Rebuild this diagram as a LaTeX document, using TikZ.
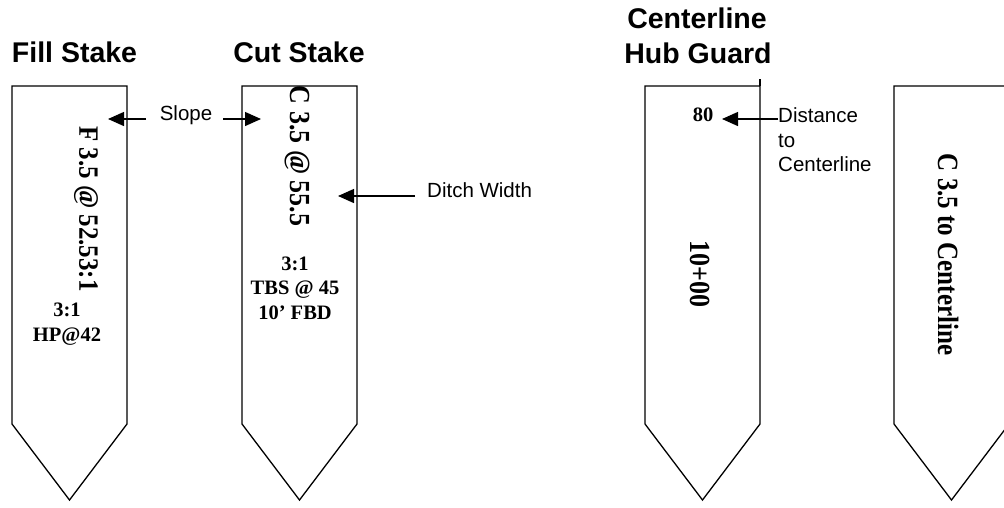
\documentclass[tikz,border=0pt]{standalone}
\usepackage{fontspec}
\setmainfont{Liberation Serif}
\newfontfamily\arialfont{Liberation Sans}
\usetikzlibrary{arrows.meta}
\tikzset{
  stake/.style={draw=black, line width=1.3pt, line join=miter},
  title/.style={font=\arialfont\bfseries\fontsize{28.5}{35}\selectfont, inner sep=0pt, anchor=base},
  note/.style={font=\arialfont\fontsize{20.5}{24.5}\selectfont, inner sep=0pt},
  vtext/.style={font=\bfseries\fontsize{25}{30}\selectfont, inner sep=0pt, rotate=-90, yscale=1.12},
  htext/.style={font=\bfseries\fontsize{20.5}{24.5}\selectfont, inner sep=0pt, align=center},
  arr/.style={line width=1.3pt, -{Triangle[length=16pt,width=14pt]}},
}
\begin{document}
\begin{tikzpicture}[x=1pt,y=-1pt]
\useasboundingbox (0,0) rectangle (1004,507);
\fill[white] (0,0) rectangle (1004,507);
\begin{scope}
\clip (0,0) rectangle (1004,507);
% stakes
\draw[stake] (12,86) -- (127,86) -- (127,424) -- (69.5,500) -- (12,424) -- cycle;
\draw[stake] (242,86) -- (357,86) -- (357,424) -- (299.5,500) -- (242,424) -- cycle;
\draw[stake] (645,86) -- (760,86) -- (760,424) -- (702.5,500) -- (645,424) -- cycle;
\draw[stake] (760,79) -- (760,86);
\draw[stake] (894,86) -- (1009,86) -- (1009,424) -- (951.5,500) -- (894,424) -- cycle;
\end{scope}
% titles
\node[title] (tfill) at (74.5,62) {Fill Stake};
\node[title] (tcut) at (299,62) {Cut Stake};
\node[title] (tcl1) at (697,28) {Centerline};
\node[title] (tcl2) at (698,63) {Hub Guard};
% stake texts
\node[vtext] (ftext) at (86,209) {F 3.5 @ 52.53:1};
\node[htext] (fhp) at (67,324) {3:1\\HP@42};
\node[vtext, font=\bfseries\fontsize{26}{30}\selectfont] (ctext) at (297.5,156) {C 3.5 @ 55.5};
\node[htext] (ctbs) at (295,288) {3:1\\TBS @ 45\\10’ FBD};
\node[htext] (eighty) at (703,115) {80};
\node[vtext, font=\bfseries\fontsize{26}{30}\selectfont] (station) at (700,274) {10+00};
\node[vtext, yscale=1.05] (rtext) at (948,254.5) {C 3.5 to Centerline};
% labels
\node[note] (slope) at (186,115) {Slope};
\node[note, anchor=west] (ditch) at (427,190) {Ditch Width};
\node[note, anchor=west, align=left] (dist) at (778,140) {Distance\\to\\Centerline};
% arrow coordinates
\coordinate (slopeL) at (146,119);
\coordinate (slopeR) at (223,119);
\coordinate (fillTip) at (108,119);
\coordinate (cutTip) at (261,119);
\coordinate (ditchS) at (415,196);
\coordinate (ditchTip) at (338,196);
\coordinate (distS) at (778,119);
\coordinate (distTip) at (722,119);
\draw[arr] (slopeL) -- (fillTip);
\draw[arr] (slopeR) -- (cutTip);
\draw[arr] (ditchS) -- (ditchTip);
\draw[arr] (distS) -- (distTip);
\end{tikzpicture}
\end{document}
